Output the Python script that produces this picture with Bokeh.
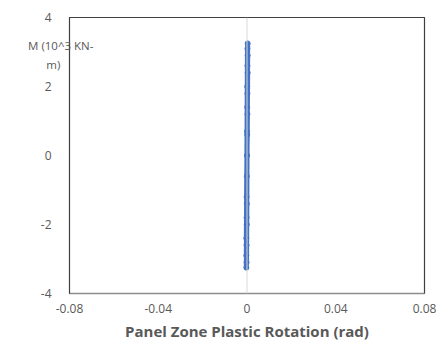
from bokeh.plotting import figure
from bokeh.models import Range1d, FixedTicker, Span, Label, CustomJSTickFormatter
from bokeh.embed import file_html
from bokeh.resources import INLINE

# Panel zone plastic rotation (rad) and moment (10^3 kN-m)
rotation = [0.0, 0.0001, -0.0001, 0.0002, -0.0002, 0.0002, -0.0002, 0.0003,
            -0.0003, 0.0003, -0.0003, 0.0003, -0.0003, 0.0002, -0.0002,
            0.0002, -0.0002, 0.0001, -0.0001, 0.0001, -0.0001, 0.0, 0.0]
moment = [0.0, 0.6, -0.6, 1.2, -1.2, 1.8, -1.8, 2.4, -2.4, 2.9, -2.9, 3.25,
          -3.25, 3.1, -3.1, 2.6, -2.6, 2.0, -2.0, 1.4, -1.4, 0.7, 0.0]

x_ticks = [-0.08, -0.04, 0, 0.04, 0.08]
y_ticks = [-4, -2, 0, 2, 4]
x_title = "Panel Zone Plastic Rotation (rad)"
y_title_lines = ["M (10^3 KN-", "m)"]

p = figure(width=437, height=346, output_backend="svg", toolbar_location=None,
           x_range=Range1d(-0.08, 0.08), y_range=Range1d(-4, 4),
           min_border_left=69, min_border_right=13, min_border_top=17,
           min_border_bottom=53)
p.xgrid.visible = False
p.ygrid.visible = False
p.outline_line_color = "#404040"
p.outline_line_width = 1.2

p.xaxis.ticker = FixedTicker(ticks=x_ticks)
p.yaxis.ticker = FixedTicker(ticks=y_ticks)
p.xaxis.formatter = CustomJSTickFormatter(code="if (Math.abs(tick) < 1e-9) return '0'; return tick.toFixed(2);")
p.yaxis.formatter = CustomJSTickFormatter(code="return String(Math.round(tick));")
for ax in (p.xaxis[0], p.yaxis[0]):
    ax.major_tick_line_color = None
    ax.minor_tick_line_color = None
    ax.major_label_text_font = "Open Sans"
    ax.major_label_text_font_size = "12px"
    ax.major_label_text_color = "#595959"
p.xaxis.axis_line_color = "#8c8c8c"
p.xaxis.axis_line_width = 1.5
p.yaxis.axis_line_color = "#404040"
p.yaxis.major_label_standoff = 12
p.xaxis.major_label_standoff = 4

p.xaxis.axis_label = x_title
p.xaxis.axis_label_text_font = "Open Sans"
p.xaxis.axis_label_text_font_style = "bold"
p.xaxis.axis_label_text_font_size = "15px"
p.xaxis.axis_label_text_color = "#595959"
p.xaxis.axis_label_standoff = 5

p.add_layout(Span(location=0, dimension="height", line_color="#d9d9d9", line_width=1))

p.line(rotation, moment, line_color="#4472C4", line_width=5)
p.scatter(rotation, moment, size=5, color="#4472C4")

p.add_layout(Label(x=-0.0692, y=3.19, text=y_title_lines[0], text_align="right",
                   text_baseline="middle", text_font="Open Sans", text_font_size="11.5px",
                   text_color="#595959"), "above")
p.add_layout(Label(x=-0.0841, y=2.64, text=y_title_lines[1],
                   text_align="right", text_baseline="middle", text_font="Open Sans",
                   text_font_size="11.5px", text_color="#595959"), "left")

open("out.html", "w").write(file_html(p, INLINE))
